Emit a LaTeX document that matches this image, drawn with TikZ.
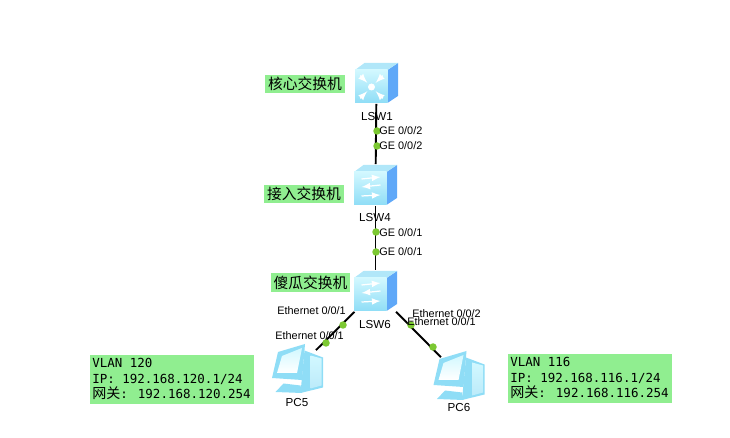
\documentclass[tikz,border=0pt]{standalone}
\usepackage{fontspec}
\setmainfont{Liberation Sans}
\newfontfamily\cjkfont{Noto Sans CJK SC}
\newfontfamily\boxfont{DejaVu Sans Mono}
\usetikzlibrary{calc}
\tikzset{>=latex}
\definecolor{notegreen}{HTML}{90EE90}
\definecolor{portgreen}{HTML}{7CC832}
\definecolor{bodyblue}{HTML}{5FA8F8}
\definecolor{facelight}{HTML}{D2F8FF}
\definecolor{facedark}{HTML}{8FDDF6}
\tikzset{
  swnode/.style={minimum width=0.86cm,minimum height=0.82cm,inner sep=0},
  pcnode/.style={minimum width=0.9cm,minimum height=0.72cm,inner sep=0},
  port/.style={circle,fill=portgreen,minimum size=0.15cm,inner sep=0},
  link/.style={black,line width=1.1pt},
  tag/.style={font=\fontsize{6.2}{7}\selectfont,inner sep=0,anchor=west},
  devname/.style={font=\fontsize{6.6}{8}\selectfont,inner sep=0},
  note/.style={fill=notegreen,font=\cjkfont\fontsize{8.4}{10}\selectfont,
    minimum width=1.6cm,minimum height=0.37cm,inner sep=0},
  vlanbox/.style={fill=notegreen,anchor=north west,minimum width=3.28cm,
    minimum height=0.98cm,inner sep=0},
  boxline/.style={font=\boxfont\fontsize{7.1}{8}\selectfont,inner sep=0,anchor=west}
}
% switch body, drawn round the centre of its node
\newcommand{\swbody}[1]{
  \begin{scope}[shift={(#1.center)}]
    \fill[bodyblue] (11,-13) -- (21.5,-20) -- (21.5,13) -- (11,20) -- cycle;
    \fill[facedark!70!white] (-21.5,-13) -- (-12,-20) -- (21.5,-20) -- (11,-13) -- cycle;
    \shade[top color=facelight,bottom color=facedark]
      (-21.5,-13) rectangle (11,20);
  \end{scope}
}
% plain switch: three arrows
\newcommand{\swarrows}[1]{
  \begin{scope}[shift={(#1.center)},white,line width=0.7pt]
    \draw[->] (-14,-6) -- (5,-8);
    \draw[<-] (-14,2) -- (5,0);
    \draw[->] (-14,11) -- (5,10);
  \end{scope}
}
\newcommand{\pcbody}[1]{
  \begin{scope}[shift={(#1.center)}]
    \fill[facedark] (7,-18) -- (25.5,-11) -- (25.5,19) -- (3,24.5) -- cycle;
    \shade[top color=facelight,bottom color=facedark!60!white]
      (13,-13) -- (24,-10) -- (24,17) -- (13,20) -- cycle;
    \fill[facedark] (-14,15) -- (3,17) -- (4.5,24.5) -- (-22,23.5) -- cycle;
    \fill[facedark] (-19.5,-16.5) -- (7.5,-24.5) -- (4.5,11.5) -- (-25.5,9.5) -- cycle;
    \shade[top color=facelight,bottom color=white]
      (-15.5,-12.5) -- (4.5,-20.5) -- (-0.5,4.5) -- (-20.5,4.5) -- cycle;
  \end{scope}
}
\begin{document}
\begin{tikzpicture}[x=0.02cm,y=-0.02cm]
  \useasboundingbox (0,0) rectangle (730,438);

  % devices
  \node[swnode] (lsw1) at (376.5,83) {};
  \node[swnode] (lsw4) at (375.5,185) {};
  \node[swnode] (lsw6) at (375.5,291) {};
  \node[pcnode] (pc5) at (297.5,368.5) {};
  \node[pcnode] (pc6) at (459,375.5) {};

  % links
  \draw[link] (lsw1) -- (lsw4);
  \draw[link] (lsw4) -- (lsw6);
  \draw[link] (lsw6) -- (pc5);
  \draw[link] (lsw6) -- (pc6);

  % icons
  \swbody{lsw1}
  \swbody{lsw4}
  \swbody{lsw6}
  \swarrows{lsw4}
  \swarrows{lsw6}
  \begin{scope}[shift={(lsw1.center)},white,line width=0.8pt]
    \fill (-5,4) circle (3.5);
    \foreach \a in {45,135,225,315}
      \draw[<-] ($(-5,4)+(\a:6)$) -- ($(-5,4)+(\a:16)$);
  \end{scope}
  \pcbody{pc5}
  \pcbody{pc6}

  % device names
  \node[devname] (namelsw1) at (377,116.5) {LSW1};
  \node[devname] (namelsw4) at (375,217.5) {LSW4};
  \node[devname] (namelsw6) at (375,325) {LSW6};
  \node[devname] (namepc5) at (297,403) {PC5};
  \node[devname] (namepc6) at (459,408) {PC6};

  % ports
  \node[port] (p1) at (377,131) {};
  \node[port] (p2) at (377,146) {};
  \node[port] (p3) at (376,232) {};
  \node[port] (p4) at (376,252) {};
  \node[port] (p5) at (343,325) {};
  \node[port] (p6) at (326,343) {};
  \node[port] (p7) at (411,325) {};
  \node[port] (p8) at (433,347) {};

  \node[tag] (t1) at (379,131) {GE 0/0/2};
  \node[tag] (t2) at (379,146) {GE 0/0/2};
  \node[tag] (t3) at (379,233) {GE 0/0/1};
  \node[tag] (t4) at (379,252) {GE 0/0/1};
  \node[tag] (t5) at (277,311) {Ethernet 0/0/1};
  \node[tag] (t6) at (275,336) {Ethernet 0/0/1};
  \node[tag] (t7) at (412,314) {Ethernet 0/0/2};
  \node[tag] (t8) at (407,322) {Ethernet 0/0/1};

  % notes
  \node[note] (core) at (305,84) {核心交换机};
  \node[note] (access) at (304,194) {接入交换机};
  \node[note] (dumb) at (310.5,282.5) {傻瓜交换机};

  \node[vlanbox] (vlan120) at (90,355) {};
  \node[vlanbox] (vlan116) at (508,354) {};
  \foreach \b/\v in {vlan120/120,vlan116/116} {
    \node[boxline] (\b l1) at ($(\b.north west)+(2,8)$) {VLAN \v};
    \node[boxline] (\b l2) at ($(\b.north west)+(2,24)$) {IP: 192.168.\v.1/24};
    \node[boxline] (\b l3) at ($(\b.north west)+(2,38)$)
      {{\cjkfont\fontsize{8}{8}\selectfont 网关}: 192.168.\v.254};
  }
\end{tikzpicture}
\end{document}
